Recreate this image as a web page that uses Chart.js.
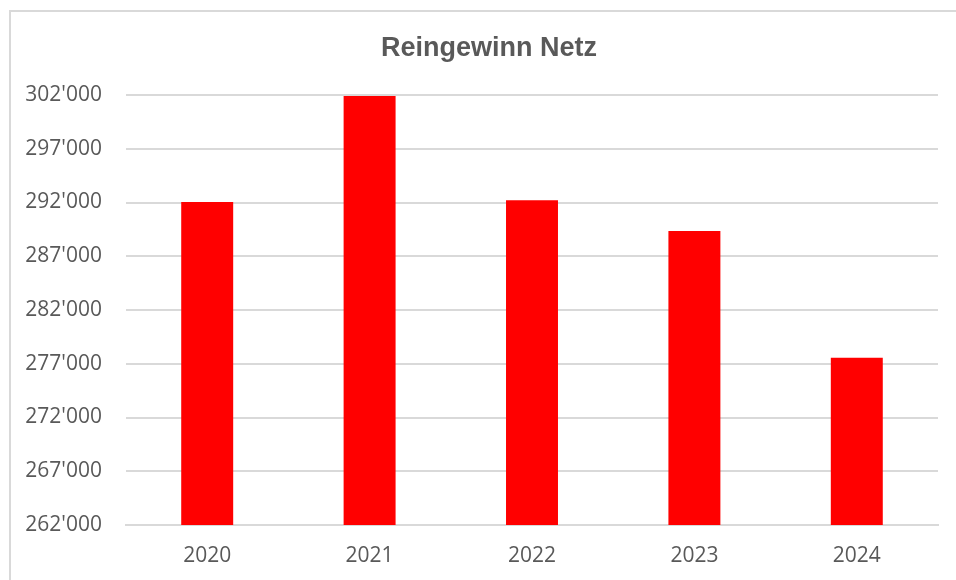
<!DOCTYPE html>
<html>
<head>
<meta charset="utf-8">
<script src="https://cdn.jsdelivr.net/npm/chart.js@4/dist/chart.umd.min.js"></script>
<style>
  html, body { margin: 0; padding: 0; background: #ffffff; }
  #wrap { position: relative; width: 956px; height: 580px; overflow: hidden; }
  #frame { position: absolute; left: 9px; top: 10px; width: 960px; height: 600px;
           border-top: 2px solid #d9d9d9; border-left: 2px solid #d9d9d9; box-sizing: border-box; }
  canvas { position: absolute; left: 0; top: 0; }
</style>
</head>
<body>
<div id="wrap">
  <div id="frame"></div>
  <canvas id="c" width="956" height="580"></canvas>
</div>
<script>
const title = "Reingewinn Netz";
const categories = ["2020", "2021", "2022", "2023", "2024"];
const netProfit = [292050, 301900, 292200, 289350, 277550];
const yMin = 262000;
const yMax = 302000;
const yStep = 5000;

function swissFormat(v) {
  return String(Math.round(v)).replace(/\B(?=(\d{3})+(?!\d))/g, "'");
}

const gridColor = "#d9d9d9";
const textColor = "#595959";

// widen the y-axis label area after layout so labels are not clipped
const widenYLabels = {
  id: "widenYLabels",
  afterLayout(chart) { chart.scales.y.left = 10; }
};

new Chart(document.getElementById("c"), {
  type: "bar",
  data: {
    labels: categories,
    datasets: [{
      label: title,
      data: netProfit,
      backgroundColor: "#ff0000",
      borderWidth: 0,
      categoryPercentage: 1,
      barPercentage: 0.32
    }]
  },
  plugins: [widenYLabels],
  options: {
    responsive: false,
    animation: false,
    devicePixelRatio: 1,
    layout: { padding: { top: 0, left: 40, right: 18, bottom: 12 } },
    plugins: {
      legend: { display: false },
      tooltip: { enabled: false },
      title: {
        display: true,
        text: title,
        color: textColor,
        font: { family: "'Liberation Sans', Arial, sans-serif", size: 27, weight: "bold", lineHeight: 1.2 },
        padding: { top: 32, bottom: 30.6 }
      }
    },
    scales: {
      x: {
        afterFit: (s) => { s.height = 43; },
        grid: { display: false, drawTicks: false },
        border: { display: true, color: gridColor, width: 2 },
        ticks: {
          color: textColor,
          padding: 18,
          font: { family: "'Open Sans', sans-serif", size: 21, lineHeight: 1.2 }
        }
      },
      y: {
        min: yMin,
        max: yMax,
        afterFit: (s) => { s.width = 86; },
        grid: { color: gridColor, lineWidth: 2, drawTicks: false },
        border: { display: false },
        ticks: {
          stepSize: yStep,
          color: textColor,
          padding: 24,
          font: { family: "'Open Sans', sans-serif", size: 21, lineHeight: 1.2 },
          callback: (v) => swissFormat(v)
        }
      }
    }
  }
});
</script>
</body>
</html>
